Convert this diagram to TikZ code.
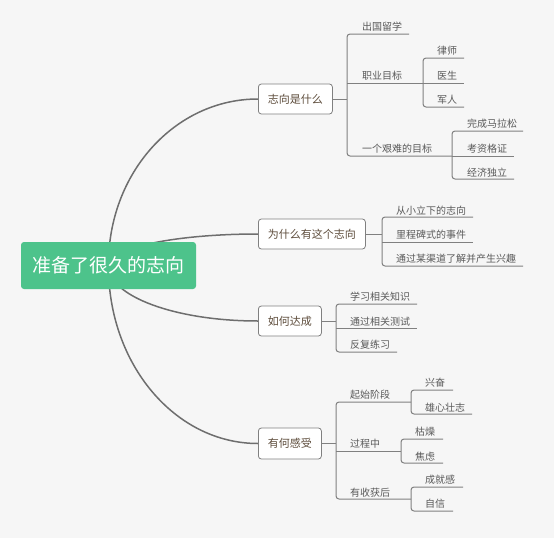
\documentclass[tikz,border=0pt]{standalone}
\usepackage{fontspec}
\newfontfamily\cjk{Noto Sans CJK SC}
\definecolor{bgc}{HTML}{F6F6F6}
\definecolor{rootg}{HTML}{4DC38B}
\definecolor{linec}{HTML}{6E6E6E}
\definecolor{brc}{HTML}{808080}
\definecolor{topictxt}{HTML}{5E4D3C}
\definecolor{leaftxt}{HTML}{5A5A5A}
\pgfdeclarelayer{bg}
\pgfsetlayers{bg,main}
\tikzset{
  rootbox/.style={fill=rootg, text=white, rounded corners=3pt, minimum height=47pt, minimum width=175pt, inner sep=0pt, font=\cjk\fontsize{19}{19}\selectfont},
  topic/.style={draw=brc, line width=0.8pt, fill=white, rounded corners=3pt, minimum height=30pt, inner xsep=9.5pt, inner ysep=0pt, text=topictxt, font=\cjk\fontsize{11}{11}\selectfont, anchor=west},
  leaf/.style={anchor=west, inner sep=0pt, text=leaftxt, font=\cjk\fontsize{10}{10}\selectfont},
  curve/.style={draw=linec, line width=1.5pt},
  branch/.style={draw=brc, line width=1pt, rounded corners=3pt},
}
\begin{document}
\begin{tikzpicture}[x=1pt,y=-1pt]
\useasboundingbox (0,0) rectangle (554,538);
% ---------- nodes
\node[rootbox] (root) at (108.5,265.5) {准备了很久的志向};
\node[topic] (t1) at (258,99) {志向是什么};
\node[topic] (t2) at (258,234) {为什么有这个志向};
\node[topic] (t3) at (258,321) {如何达成};
\node[topic, minimum height=31pt] (t4) at (258,443.5) {有何感受};
% leaves of t1
\node[leaf] (a1) at (362,27) {出国留学};
\node[leaf] (a2) at (362,76) {职业目标};
\node[leaf] (a3) at (362,149) {一个艰难的目标};
\node[leaf] (a21) at (437,51) {律师};
\node[leaf] (a22) at (437,76) {医生};
\node[leaf] (a23) at (437,100) {军人};
\node[leaf] (a31) at (467,124) {完成马拉松};
\node[leaf] (a32) at (467,149) {考资格证};
\node[leaf] (a33) at (467,173) {经济独立};
% leaves of t2
\node[leaf] (b1) at (396,211) {从小立下的志向};
\node[leaf] (b2) at (396,235) {里程碑式的事件};
\node[leaf] (b3) at (396,259) {通过某渠道了解并产生兴趣};
% leaves of t3
\node[leaf] (c1) at (350,297) {学习相关知识};
\node[leaf] (c2) at (350,322) {通过相关测试};
\node[leaf] (c3) at (350,345) {反复练习};
% leaves of t4
\node[leaf] (d1) at (350,395) {起始阶段};
\node[leaf] (d2) at (350,444) {过程中};
\node[leaf] (d3) at (350,493) {有收获后};
\node[leaf] (d11) at (425,383) {兴奋};
\node[leaf] (d12) at (425,408) {雄心壮志};
\node[leaf] (d21) at (415,432) {枯燥};
\node[leaf] (d22) at (415,457) {焦虑};
\node[leaf] (d31) at (425,480) {成就感};
\node[leaf] (d32) at (425,504) {自信};
% ---------- coordinates (trunks and underline ends)
\coordinate (k1) at (347,99);
\coordinate (a1e) at (409,34);
\coordinate (a2e) at (423,83);
\coordinate (a3e) at (452,156);
\coordinate (a21e) at (464,58);
\coordinate (a22e) at (464,83);
\coordinate (a23e) at (464,107);
\coordinate (a31e) at (523,131);
\coordinate (a32e) at (514,156);
\coordinate (a33e) at (514,179);
\coordinate (k2) at (382,234);
\coordinate (b1e) at (473,217);
\coordinate (b2e) at (473,242);
\coordinate (b3e) at (523,266);
\coordinate (k3) at (336,321);
\coordinate (c1e) at (417,304);
\coordinate (c2e) at (417,328);
\coordinate (c3e) at (397,352);
\coordinate (k4) at (336,443.5);
\coordinate (d1e) at (411,402);
\coordinate (d2e) at (401,451);
\coordinate (d3e) at (411,499);
\coordinate (d11e) at (453,390);
\coordinate (d12e) at (472,414);
\coordinate (d21e) at (443,439);
\coordinate (d22e) at (443,463);
\coordinate (d31e) at (463,487);
\coordinate (d32e) at (453,511);
% ---------- background and curves
\begin{pgfonlayer}{bg}
\fill[bgc] (0,0) rectangle (554,538);
\draw[curve] (root.center) .. controls (108,173) and (175,99) .. (t1.west);
\draw[curve] (root.center) .. controls (108,248) and (175,234) .. (t2.west);
\draw[curve] (root.center) .. controls (108,296) and (175,321) .. (t3.west);
\draw[curve] (root.center) .. controls (108,364) and (175,443.5) .. (t4.west);
\end{pgfonlayer}
% ---------- branches of t1
\draw[branch] (t1.east) -- (k1);
\draw[branch] (a1e) -- (k1 |- a1e) -- (k1 |- a3e) -- (a3e);
\draw[branch] (k1 |- a2e) -- (a2e);
\draw[branch] (a21e) -- (a2e |- a21e) -- (a2e |- a23e) -- (a23e);
\draw[branch] (a2e) -- (a22e);
\draw[branch] (a31e) -- (a3e |- a31e) -- (a3e |- a33e) -- (a33e);
\draw[branch] (a3e) -- (a32e);
% ---------- branches of t2
\draw[branch] (t2.east) -- (k2);
\draw[branch] (b1e) -- (k2 |- b1e) -- (k2 |- b3e) -- (b3e);
\draw[branch] (k2 |- b2e) -- (b2e);
% ---------- branches of t3
\draw[branch] (t3.east) -- (k3);
\draw[branch] (c1e) -- (k3 |- c1e) -- (k3 |- c3e) -- (c3e);
\draw[branch] (k3 |- c2e) -- (c2e);
% ---------- branches of t4
\draw[branch] (t4.east) -- (k4);
\draw[branch] (d1e) -- (k4 |- d1e) -- (k4 |- d3e) -- (d3e);
\draw[branch] (k4 |- d2e) -- (d2e);
\draw[branch] (d11e) -- (d1e |- d11e) -- (d1e |- d12e) -- (d12e);
\draw[branch] (d21e) -- (d2e |- d21e) -- (d2e |- d22e) -- (d22e);
\draw[branch] (d31e) -- (d3e |- d31e) -- (d3e |- d32e) -- (d32e);
\end{tikzpicture}
\end{document}
